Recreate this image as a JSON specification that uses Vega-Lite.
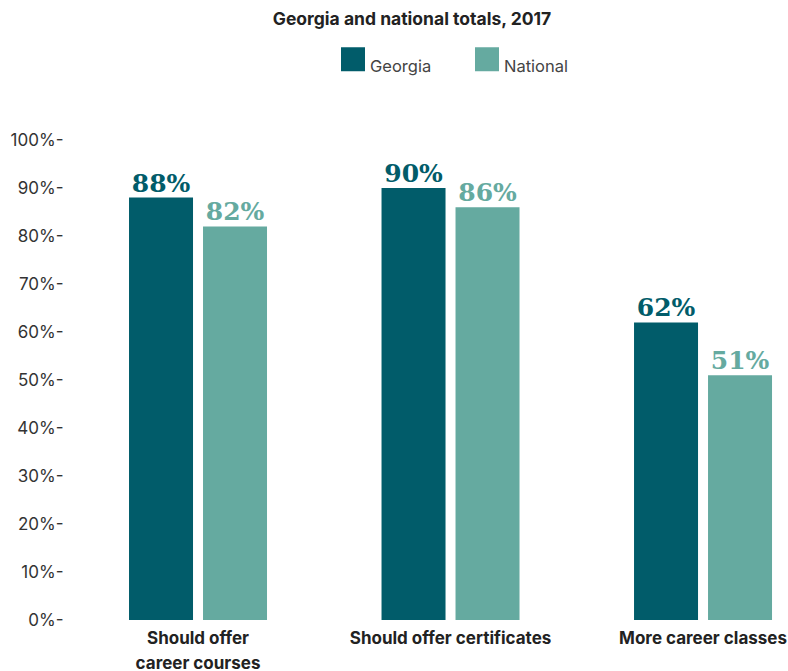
{
  "$schema": "https://vega.github.io/schema/vega-lite/v6.json",
  "autosize": "none",
  "width": 718,
  "height": 480,
  "padding": {"left": 70, "top": 140, "right": 0, "bottom": 51},
  "background": "white",
  "title": {
    "text": "Georgia and national totals, 2017",
    "font": "Inter",
    "fontSize": 17.5,
    "fontWeight": "bold",
    "color": "#222222",
    "anchor": "middle",
    "dx": -17,
    "offset": 19
  },
  "data": {
    "values": [
      {"category": "Should offer career courses", "group": "Georgia", "value": 0.88},
      {"category": "Should offer career courses", "group": "National", "value": 0.82},
      {"category": "Should offer certificates", "group": "Georgia", "value": 0.90},
      {"category": "Should offer certificates", "group": "National", "value": 0.86},
      {"category": "More career classes", "group": "Georgia", "value": 0.62},
      {"category": "More career classes", "group": "National", "value": 0.51}
    ]
  },
  "encoding": {
    "x": {
      "field": "category",
      "type": "nominal",
      "sort": null,
      "title": null,
      "scale": {"paddingInner": 0.4535, "paddingOuter": 0.1485, "align": 0.787, "round": false},
      "axis": {
        "domain": false,
        "ticks": false,
        "labelAngle": 0,
        "labelFont": "Inter",
        "labelFontWeight": "bold",
        "labelFontSize": 17,
        "labelColor": "#222222",
        "labelPadding": 10,
        "labelLineHeight": 25,
        "labelBaseline": "top",
        "labelLimit": 400,
        "labelExpr": "datum.value == 'Should offer career courses' ? ['Should offer', 'career courses'] : datum.value"
      }
    },
    "xOffset": {
      "field": "group",
      "type": "nominal",
      "scale": {"paddingInner": 0.1351, "paddingOuter": 0}
    },
    "y": {
      "field": "value",
      "type": "quantitative",
      "title": null,
      "scale": {"domain": [0, 1]},
      "axis": {
        "values": [0, 0.1, 0.2, 0.3, 0.4, 0.5, 0.6, 0.7, 0.8, 0.9, 1],
        "domain": false,
        "ticks": false,
        "grid": false,
        "labelFont": "Inter",
        "labelFontSize": 17,
        "labelColor": "#333333",
        "labelPadding": 7,
        "labelExpr": "format(datum.value, '.0%') + '-'"
      }
    },
    "color": {
      "field": "group",
      "type": "nominal",
      "scale": {"domain": ["Georgia", "National"], "range": ["#015C6A", "#65AAA0"]},
      "legend": {
        "title": null,
        "orient": "none",
        "legendX": 271,
        "legendY": -93,
        "direction": "horizontal",
        "padding": 0,
        "symbolType": "square",
        "symbolSize": 576,
        "symbolStrokeWidth": 0,
        "symbolOpacity": 1,
        "labelFont": "Inter",
        "labelFontSize": 16.5,
        "labelColor": "#444444",
        "labelBaseline": "top",
        "labelOffset": 5,
        "columnPadding": 43
      }
    }
  },
  "layer": [
    {"mark": {"type": "bar", "opacity": 1}},
    {
      "mark": {
        "type": "text",
        "font": "DejaVu Serif",
        "fontWeight": "bold",
        "fontSize": 25,
        "baseline": "alphabetic",
        "dy": -6
      },
      "encoding": {
        "text": {"field": "value", "type": "quantitative", "format": ".0%"}
      }
    }
  ],
  "config": {
    "view": {"stroke": null}
  }
}
